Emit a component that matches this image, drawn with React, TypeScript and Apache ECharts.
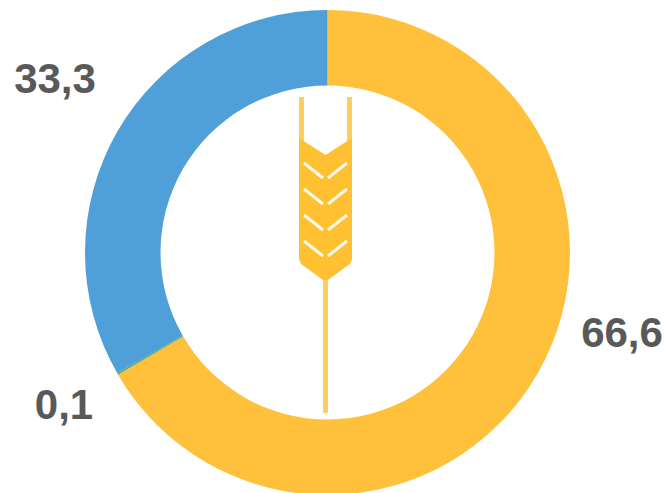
import React, { useEffect, useRef } from "react";
import * as echarts from "echarts";

const categories = ["A", "B", "C"];
const values = [66.6, 0.1, 33.3];
const colors = ["#FFC13B", "#5BA86F", "#4F9FD8"];
const labelPositions = [
  { x: 622, y: 332 },
  { x: 64, y: 404 },
  { x: 55, y: 78 },
];

const wheatBody =
  "M299 138 L325.5 155 L352 138 L352 258 Q352 263 347 266 L328 280 L323 280 L304 266 Q299 263 299 258 Z";
const wheatAwns = "M299 97 L304 97 L304 142 L299 142 Z M347 97 L352 97 L352 142 L347 142 Z M323 278 L328 278 L328 413 L323 413 Z";
echarts.graphic.registerShape("wheatBody", echarts.graphic.extendPath(wheatBody, {}) as any);
echarts.graphic.registerShape("wheatAwns", echarts.graphic.extendPath(wheatAwns, {}) as any);

const chevronRows = [163, 189, 215, 241];

export default function App() {
  const ref = useRef<HTMLDivElement>(null);
  useEffect(() => {
    const chart = echarts.init(ref.current!, null, { renderer: "svg" });
    chart.setOption({
      animation: false,
      backgroundColor: "#ffffff",
      graphic: [
        { type: "wheatAwns", x: 0, y: 0, z: 10, style: { fill: "#FFC237", opacity: 0.8 } },
        { type: "wheatBody", x: 0, y: 0, z: 10, style: { fill: "#FFC032" } },
        ...chevronRows.flatMap((y) => [
          { type: "polyline", z: 11, shape: { points: [[304, y], [323, y + 15]] }, style: { stroke: "#FFFFFF", lineWidth: 3, fill: "none", opacity: 0.9 } },
          { type: "polyline", z: 11, shape: { points: [[347, y], [328, y + 15]] }, style: { stroke: "#FFFFFF", lineWidth: 3, fill: "none", opacity: 0.9 } },
        ]),
      ],
      series: [
        {
          type: "pie",
          center: [327.5, 252.5],
          radius: [167, 242.5],
          startAngle: 90,
          clockwise: true,
          minAngle: 0,
          avoidLabelOverlap: false,
          silent: true,
          data: categories.map((name, i) => ({
            name,
            value: values[i],
            itemStyle: { color: colors[i] },
          })),
          label: {
            show: true,
            position: "outside",
            formatter: (p: any) => p.value.toFixed(1).replace(".", ","),
            fontFamily: "Liberation Sans",
            fontWeight: "bold",
            fontSize: 42,
            color: "#595959",
          },
          labelLine: { show: false },
          labelLayout: (p: any) => ({
            x: labelPositions[p.dataIndex].x,
            y: labelPositions[p.dataIndex].y,
            align: "center",
            verticalAlign: "middle",
          }),
        },
      ],
    });
    return () => chart.dispose();
  }, []);
  return <div ref={ref} style={{ position: "absolute", left: 0, top: 0, width: 669, height: 493, overflow: "hidden" }} />;
}
